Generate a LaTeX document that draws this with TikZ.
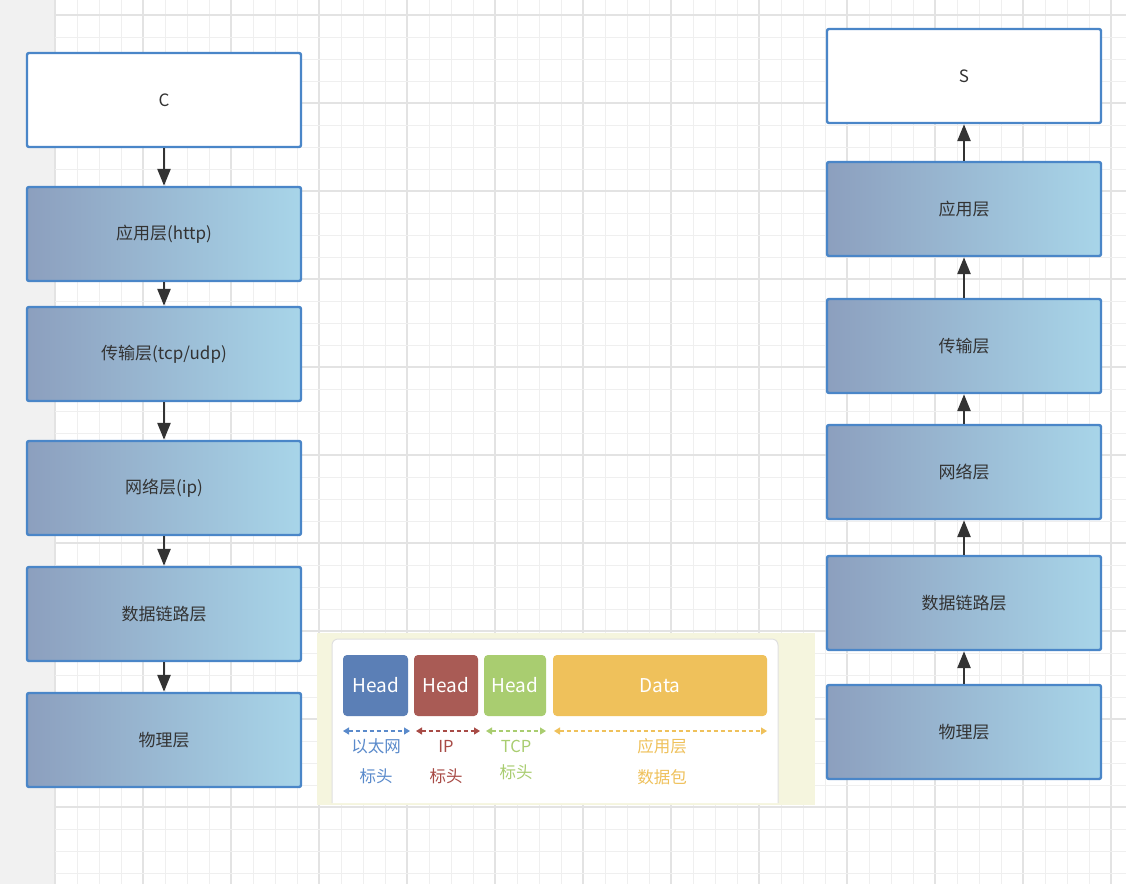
\documentclass[tikz,border=0pt]{standalone}
\usepackage{fontspec}
\setmainfont{Noto Sans CJK SC}
\usetikzlibrary{arrows.meta}
\definecolor{gridminor}{HTML}{EFEFEF}
\definecolor{gridmajor}{HTML}{E3E3E3}
\definecolor{sideband}{HTML}{F1F1F1}
\definecolor{boxborder}{HTML}{4A86C8}
\definecolor{gradL}{HTML}{8C9FBE}
\definecolor{gradR}{HTML}{A8D5E9}
\definecolor{txt}{HTML}{333333}
\definecolor{arrowc}{HTML}{333333}
\definecolor{imgbg}{HTML}{F5F5DE}
\definecolor{hblue}{HTML}{5B7FB6}
\definecolor{hred}{HTML}{A95B55}
\definecolor{hgreen}{HTML}{A9CD70}
\definecolor{hyellow}{HTML}{EFC15B}
\definecolor{lblue}{HTML}{5A8ACB}
\definecolor{lred}{HTML}{A84B46}
\begin{document}
\begin{tikzpicture}[x=1pt,y=-1pt,
  layer/.style={draw=boxborder, line width=2.4pt, rounded corners=2pt,
    left color=gradL, right color=gradR, minimum width=274pt, minimum height=94pt,
    inner sep=0pt, text=txt, font=\fontsize{17}{20}\selectfont},
  endbox/.style={layer, fill=white, left color=white, right color=white},
  arr/.style={draw=arrowc, line width=2.6pt, -{Triangle[width=13pt,length=17pt]}},
  headbox/.style={rounded corners=4pt, minimum height=61pt, inner sep=0pt,
    text=white, font=\fontsize{19}{22}\selectfont},
  dbl/.style={dashed, dash pattern=on 4pt off 3pt, line width=1.3pt,
    {Triangle[width=7pt,length=6pt]}-{Triangle[width=7pt,length=6pt]}},
  lbl/.style={font=\fontsize{16.5}{18}\selectfont, inner sep=0pt}
]
\useasboundingbox (0,0) rectangle (1126,884);
% background
\fill[white] (0,0) rectangle (1126,884);
\fill[sideband] (0,0) rectangle (55,884);
% grid
\foreach \i in {0,...,49} {
  \pgfmathsetmacro{\xx}{55+22*\i}
  \pgfmathtruncatemacro{\mm}{mod(\i,4)}
  \ifnum\mm=0
    \draw[gridmajor, line width=1.4pt] (\xx,0) -- (\xx,884);
  \else
    \draw[gridminor, line width=1pt] (\xx,0) -- (\xx,884);
  \fi
}
\foreach \j in {0,...,40} {
  \pgfmathsetmacro{\yy}{15+22*\j}
  \pgfmathtruncatemacro{\mm}{mod(\j,4)}
  \ifnum\mm=0
    \draw[gridmajor, line width=1.4pt] (55,\yy) -- (1126,\yy);
  \else
    \draw[gridminor, line width=1pt] (55,\yy) -- (1126,\yy);
  \fi
}
% left column
\node[endbox] (c) at (164,100) {C};
\node[layer] (la) at (164,234) {应用层(http)};
\node[layer] (lt) at (164,354) {传输层(tcp/udp)};
\node[layer] (ln) at (164,488) {网络层(ip)};
\node[layer] (ld) at (164,614) {数据链路层};
\node[layer] (lp) at (164,740) {物理层};
\draw[arr] (c.south) -- (la.north);
\draw[arr] (la.south) -- (lt.north);
\draw[arr] (lt.south) -- (ln.north);
\draw[arr] (ln.south) -- (ld.north);
\draw[arr] (ld.south) -- (lp.north);
% right column
\node[endbox] (s) at (964,76) {S};
\node[layer] (ra) at (964,209) {应用层};
\node[layer] (rt) at (964,346) {传输层};
\node[layer] (rn) at (964,472) {网络层};
\node[layer] (rd) at (964,603) {数据链路层};
\node[layer] (rp) at (964,732) {物理层};
\draw[arr] (ra.north) -- (s.south);
\draw[arr] (rt.north) -- (ra.south);
\draw[arr] (rn.north) -- (rt.south);
\draw[arr] (rd.north) -- (rn.south);
\draw[arr] (rp.north) -- (rd.south);
% middle picture
\fill[imgbg] (317,633) rectangle (815,805);
\draw[draw=black!12, fill=white, line width=1pt, rounded corners=6pt] (332,803) -- (332,639) -- (778,639) -- (778,803);
\node[headbox, fill=hblue, minimum width=65pt] (h1) at (375.5,685.5) {Head};
\node[headbox, fill=hred, minimum width=64pt] (h2) at (446,685.5) {Head};
\node[headbox, fill=hgreen, minimum width=62pt] (h3) at (515,685.5) {Head};
\node[headbox, fill=hyellow, minimum width=214pt] (h4) at (660,685.5) {Data};
\coordinate (a1l) at (343,731); \coordinate (a1r) at (410,731);
\coordinate (a2l) at (416,731); \coordinate (a2r) at (480,731);
\coordinate (a3l) at (486,731); \coordinate (a3r) at (546,731);
\coordinate (a4l) at (554,731); \coordinate (a4r) at (767,731);
\draw[dbl, lblue] (a1l) -- (a1r);
\draw[dbl, lred] (a2l) -- (a2r);
\draw[dbl, hgreen] (a3l) -- (a3r);
\draw[dbl, hyellow] (a4l) -- (a4r);
\node[lbl, text=lblue] (t1a) at (376,746) {以太网};
\node[lbl, text=lblue] (t1b) at (376,776) {标头};
\node[lbl, text=lred] (t2a) at (446,746) {IP};
\node[lbl, text=lred] (t2b) at (446,776) {标头};
\node[lbl, text=hgreen] (t3a) at (516,746) {TCP};
\node[lbl, text=hgreen] (t3b) at (516,772) {标头};
\node[lbl, text=hyellow] (t4a) at (662,746) {应用层};
\node[lbl, text=hyellow] (t4b) at (662,777) {数据包};
\end{tikzpicture}
\end{document}
